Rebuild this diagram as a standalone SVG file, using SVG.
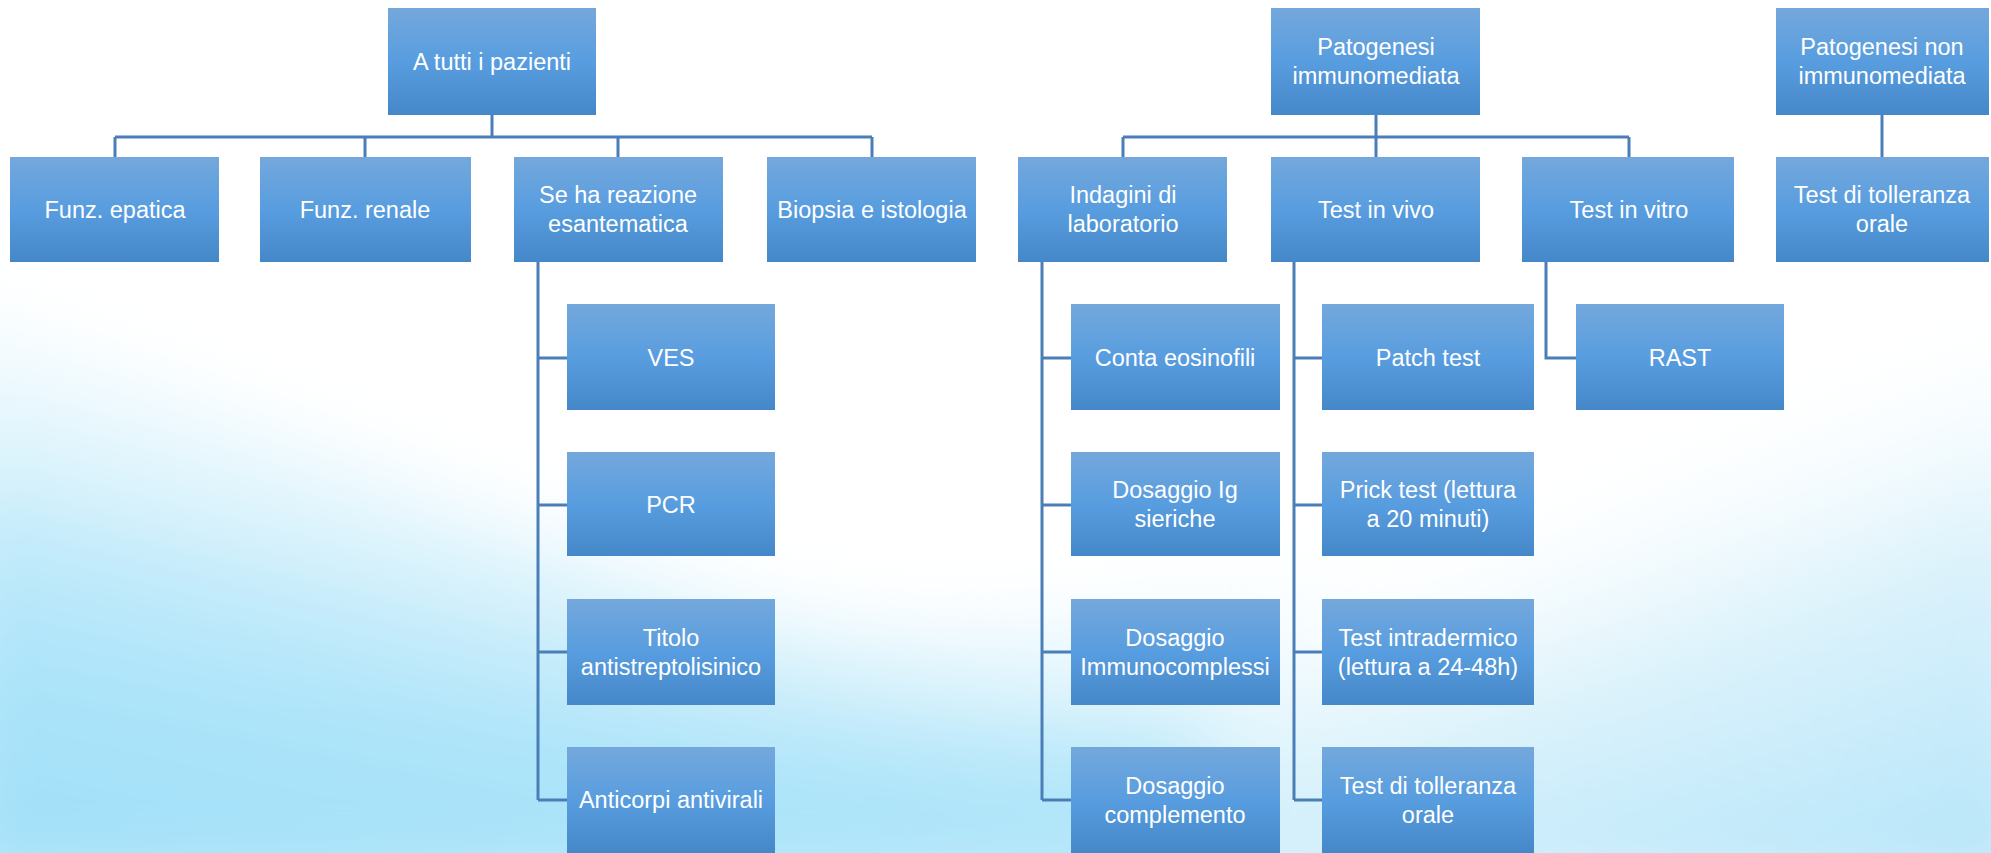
<svg xmlns="http://www.w3.org/2000/svg" width="1991" height="853" viewBox="0 0 1991 853">
<defs>
  <linearGradient id="boxg" x1="0" y1="0" x2="0" y2="1">
    <stop offset="0" stop-color="#74A8DC"/>
    <stop offset="0.5" stop-color="#589DDF"/>
    <stop offset="1" stop-color="#4588C9"/>
  </linearGradient>
  <linearGradient id="bgl" x1="0" y1="1" x2="0.6" y2="0.3">
    <stop offset="0" stop-color="#8ED9F8"/>
    <stop offset="0.5" stop-color="#BDE9FA"/>
    <stop offset="1" stop-color="#FFFFFF" stop-opacity="0"/>
  </linearGradient>
  <linearGradient id="bgr" x1="1" y1="1" x2="0.5" y2="0.2">
    <stop offset="0" stop-color="#A6E0F8"/>
    <stop offset="0.6" stop-color="#D8F1FB"/>
    <stop offset="1" stop-color="#FFFFFF" stop-opacity="0"/>
  </linearGradient>
  <filter id="blur" x="-20%" y="-20%" width="140%" height="140%">
    <feGaussianBlur stdDeviation="40"/>
  </filter>
  <style>
    .box { fill: url(#boxg); }
    .t { font-family: "Liberation Sans", Arial, sans-serif; font-size: 23.5px; fill: #FFFFFF; text-anchor: middle; }
    .c { stroke: #4A7EB8; stroke-width: 3; fill: none; }
  </style>
</defs>
<rect width="1991" height="853" fill="#FFFFFF"/>
<g id="background" filter="url(#blur)">
  <path d="M-60,300 C150,380 400,480 700,600 C1000,700 1300,560 1600,420 C1750,350 1900,330 2050,340 L2050,900 L-60,900 Z" fill="url(#bgl)"/>
  <path d="M1100,900 C1300,700 1600,450 2050,330 L2050,900 Z" fill="url(#bgr)" opacity="0.9"/>
  <path d="M-60,650 C300,700 800,760 1200,720 L1200,900 L-60,900 Z" fill="#A8E2F9" opacity="0.6"/>
</g>

<g id="connectors">
  <path class="c" d="M492,115 V137 M115,137 H872 M115,137 V157 M365,137 V157 M618,137 V157 M872,137 V157"/>
  <path class="c" d="M1376,115 V137 M1123,137 H1629 M1123,137 V157 M1376,137 V157 M1629,137 V157"/>
  <path class="c" d="M1882,115 V157"/>
  <path class="c" d="M538,262 V800 M538,358 H567 M538,505 H567 M538,652 H567 M538,800 H567"/>
  <path class="c" d="M1042,262 V800 M1042,358 H1071 M1042,505 H1071 M1042,652 H1071 M1042,800 H1071"/>
  <path class="c" d="M1294,262 V800 M1294,358 H1322 M1294,505 H1322 M1294,652 H1322 M1294,800 H1322"/>
  <path class="c" d="M1546,262 V358 H1576"/>
</g>

<g id="n-tutti"><rect class="box" x="388" y="8" width="208" height="107"/><text class="t" x="492" y="70">A tutti i pazienti</text></g>
<g id="n-pat-imm"><rect class="box" x="1271" y="8" width="209" height="107"/><text class="t" x="1376" y="55">Patogenesi</text><text class="t" x="1376" y="84">immunomediata</text></g>
<g id="n-pat-non"><rect class="box" x="1776" y="8" width="213" height="107"/><text class="t" x="1882" y="55">Patogenesi non</text><text class="t" x="1882" y="84">immunomediata</text></g>

<g id="n-epatica"><rect class="box" x="10" y="157" width="209" height="105"/><text class="t" x="115" y="218">Funz. epatica</text></g>
<g id="n-renale"><rect class="box" x="260" y="157" width="211" height="105"/><text class="t" x="365" y="218">Funz. renale</text></g>
<g id="n-esantema"><rect class="box" x="514" y="157" width="209" height="105"/><text class="t" x="618" y="203">Se ha reazione</text><text class="t" x="618" y="232">esantematica</text></g>
<g id="n-biopsia"><rect class="box" x="767" y="157" width="209" height="105"/><text class="t" x="872" y="218">Biopsia e istologia</text></g>
<g id="n-indagini"><rect class="box" x="1018" y="157" width="209" height="105"/><text class="t" x="1123" y="203">Indagini di</text><text class="t" x="1123" y="232">laboratorio</text></g>
<g id="n-vivo"><rect class="box" x="1271" y="157" width="209" height="105"/><text class="t" x="1376" y="218">Test in vivo</text></g>
<g id="n-vitro"><rect class="box" x="1522" y="157" width="212" height="105"/><text class="t" x="1629" y="218">Test in vitro</text></g>
<g id="n-toll-non"><rect class="box" x="1776" y="157" width="213" height="105"/><text class="t" x="1882" y="203">Test di tolleranza</text><text class="t" x="1882" y="232">orale</text></g>

<g id="n-ves"><rect class="box" x="567" y="304" width="208" height="106"/><text class="t" x="671" y="366">VES</text></g>
<g id="n-pcr"><rect class="box" x="567" y="452" width="208" height="104"/><text class="t" x="671" y="513">PCR</text></g>
<g id="n-titolo"><rect class="box" x="567" y="599" width="208" height="106"/><text class="t" x="671" y="646">Titolo</text><text class="t" x="671" y="675">antistreptolisinico</text></g>
<g id="n-anticorpi"><rect class="box" x="567" y="747" width="208" height="106"/><text class="t" x="671" y="808">Anticorpi antivirali</text></g>

<g id="n-eosinofili"><rect class="box" x="1071" y="304" width="209" height="106"/><text class="t" x="1175" y="366">Conta eosinofili</text></g>
<g id="n-ig"><rect class="box" x="1071" y="452" width="209" height="104"/><text class="t" x="1175" y="498">Dosaggio Ig</text><text class="t" x="1175" y="527">sieriche</text></g>
<g id="n-immunocomplessi"><rect class="box" x="1071" y="599" width="209" height="106"/><text class="t" x="1175" y="646">Dosaggio</text><text class="t" x="1175" y="675">Immunocomplessi</text></g>
<g id="n-complemento"><rect class="box" x="1071" y="747" width="209" height="106"/><text class="t" x="1175" y="794">Dosaggio</text><text class="t" x="1175" y="823">complemento</text></g>

<g id="n-patch"><rect class="box" x="1322" y="304" width="212" height="106"/><text class="t" x="1428" y="366">Patch test</text></g>
<g id="n-prick"><rect class="box" x="1322" y="452" width="212" height="104"/><text class="t" x="1428" y="498">Prick test (lettura</text><text class="t" x="1428" y="527">a 20 minuti)</text></g>
<g id="n-intradermico"><rect class="box" x="1322" y="599" width="212" height="106"/><text class="t" x="1428" y="646">Test intradermico</text><text class="t" x="1428" y="675">(lettura a 24-48h)</text></g>
<g id="n-toll-vivo"><rect class="box" x="1322" y="747" width="212" height="106"/><text class="t" x="1428" y="794">Test di tolleranza</text><text class="t" x="1428" y="823">orale</text></g>

<g id="n-rast"><rect class="box" x="1576" y="304" width="208" height="106"/><text class="t" x="1680" y="366">RAST</text></g>
</svg>
